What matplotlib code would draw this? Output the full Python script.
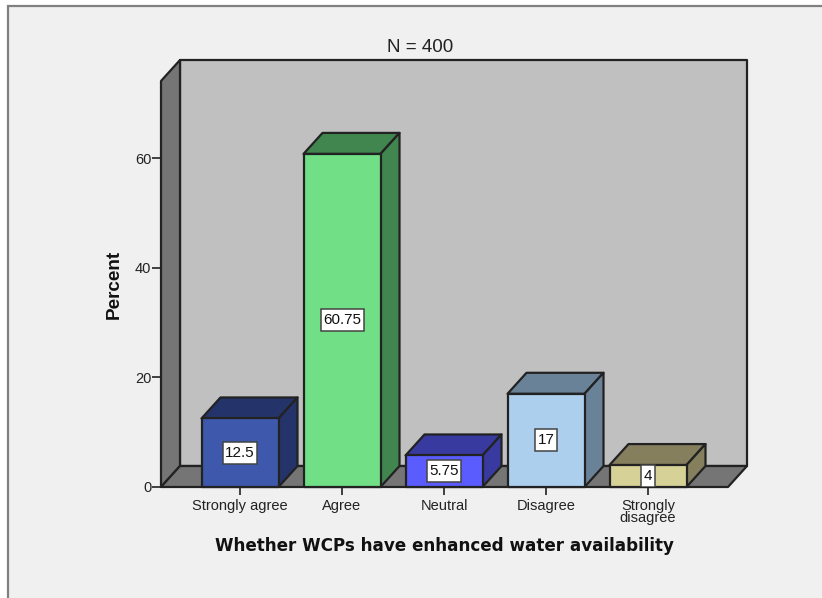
import matplotlib
matplotlib.use('Agg')
import matplotlib.pyplot as plt
from matplotlib.patches import Polygon, Rectangle

categories = ['Strongly agree', 'Agree', 'Neutral', 'Disagree', 'Strongly\ndisagree']
percent = [12.5, 60.75, 5.75, 17, 4]
value_labels = ['12.5', '60.75', '5.75', '17', '4']
front_colors = ['#3E58AC', '#70DF85', '#5A5CFE', '#ADCFEE', '#D6D196']
shade_colors = ['#24346B', '#41854F', '#393A9F', '#6A8298', '#857F5E']
y_ticks = [0, 20, 40, 60]

W, H = 822, 598
PX_PER_CAT = 102.0
PX_PER_PCT = 5.483
DX = 19 / PX_PER_CAT
DY = 21 / PX_PER_PCT
BAR_W = 77 / PX_PER_CAT
EDGE = '#222222'
LW = 1.6

plt.rcParams['font.family'] = ['Liberation Sans', 'DejaVu Sans']

fig = plt.figure(figsize=(W / 100, H / 100), dpi=100, facecolor='white')

# grey panel behind the chart, open at the right and bottom
fig.add_artist(Rectangle((8 / W, -0.02), 1.02, 1 - 6 / H + 0.02, transform=fig.transFigure,
                         facecolor='#F0F0F0', edgecolor='#808080', linewidth=1.6, zorder=-1))

ax = fig.add_axes([161 / W, (H - 487) / H, (728 - 161) / W, (487 - 81) / H])
x0 = -79 / PX_PER_CAT
x1 = x0 + 567 / PX_PER_CAT
y1 = (487 - 81) / PX_PER_PCT
ax.set_xlim(x0, x1)
ax.set_ylim(0, y1)
for s in ax.spines.values():
    s.set_visible(False)
ax.patch.set_visible(False)


def face(points, color, z):
    ax.add_patch(Polygon(points, closed=True, facecolor=color, edgecolor=EDGE,
                         linewidth=LW, joinstyle='round', clip_on=False, zorder=z))


# back wall, left wall and floor
face([(x0 + DX, DY), (x1 + DX, DY), (x1 + DX, y1 + DY), (x0 + DX, y1 + DY)], '#C0C0C0', 1)
face([(x0, 0), (x0 + DX, DY), (x0 + DX, y1 + DY), (x0, y1)], '#757575', 1)
face([(x0, 0), (x1, 0), (x1 + DX, DY), (x0 + DX, DY)], '#757575', 1)

renderer = fig.canvas.get_renderer()
for i, v in enumerate(percent):
    left = i - BAR_W / 2
    right = i + BAR_W / 2
    z = 3 + i
    face([(left, v), (right, v), (right + DX, v + DY), (left + DX, v + DY)], shade_colors[i], z)
    face([(right, 0), (right + DX, DY), (right + DX, v + DY), (right, v)], shade_colors[i], z)
    face([(left, 0), (right, 0), (right, v), (left, v)], front_colors[i], z)
    t = ax.text(i, v / 2, value_labels[i], ha='center', va='center', fontsize=11,
                color='#111111', zorder=21)
    # white label box, fixed height and a little wider than the text
    box_w = (t.get_window_extent(renderer).width + 5) / PX_PER_CAT
    box_h = 22 / PX_PER_PCT
    ax.add_patch(Rectangle((i - box_w / 2, v / 2 - box_h / 2), box_w, box_h, facecolor='white',
                           edgecolor='#444444', linewidth=1.1, zorder=20))

ax.set_xticks(range(len(categories)))
ax.set_xticklabels(categories, fontsize=10.5, color='#222222', linespacing=0.8)
ax.set_yticks(y_ticks)
ax.set_yticklabels([str(t) for t in y_ticks], fontsize=10.5, color='#222222')
ax.tick_params(axis='x', length=6, width=1.2, color=EDGE, pad=2.5)
ax.tick_params(axis='y', length=6.5, width=1.2, color=EDGE, pad=0.5)

ax.set_ylabel('Percent', fontsize=13.6, fontweight='bold', color='#111111', labelpad=0)
ax.yaxis.set_label_coords((122.5 - 161) / 567, (487 - 284) / 406)

fig.text(420.5 / W, 1 - 47 / H, 'N = 400', ha='center', va='center', fontsize=13.6, color='#222222')
fig.text(444.5 / W, 1 - 546 / H, 'Whether WCPs have enhanced water availability', ha='center',
         va='center', fontsize=12.1, fontweight='bold', color='#111111', family='DejaVu Sans')

fig.savefig('out.png', dpi=100, facecolor=fig.get_facecolor())
